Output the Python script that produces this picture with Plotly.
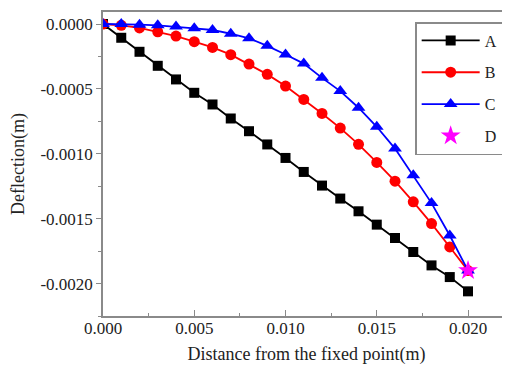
import plotly.graph_objects as go

distance = [0.000, 0.001, 0.002, 0.003, 0.004, 0.005, 0.006, 0.007, 0.008, 0.009, 0.010,
            0.011, 0.012, 0.013, 0.014, 0.015, 0.016, 0.017, 0.018, 0.019, 0.020]
series_a = [0, -0.000106, -0.000214, -0.000322, -0.000427, -0.000530, -0.000620, -0.000728,
            -0.000826, -0.000928, -0.001032, -0.001140, -0.001245, -0.001345, -0.001443,
            -0.001546, -0.001649, -0.001757, -0.001860, -0.001950, -0.002060]
series_b = [0, -0.000010, -0.000030, -0.000060, -0.000093, -0.000136, -0.000180, -0.000236,
            -0.000309, -0.000388, -0.000478, -0.000581, -0.000689, -0.000802, -0.000927,
            -0.001067, -0.001211, -0.001370, -0.001538, -0.001718, -0.001900]
series_c = [0, 0, -0.000005, -0.000010, -0.000020, -0.000033, -0.000046, -0.000075,
            -0.000110, -0.000168, -0.000235, -0.000305, -0.000415, -0.000517, -0.000645,
            -0.000792, -0.000960, -0.001165, -0.001380, -0.001630, -0.001900]
d_x = [0.020]
d_y = [-0.001900]

x_tickvals = [0.000, 0.005, 0.010, 0.015, 0.020]
x_ticktext = ["0.000", "0.005", "0.010", "0.015", "0.020"]
y_tickvals = [0.0000, -0.0005, -0.0010, -0.0015, -0.0020]
y_ticktext = ["0.0000", "-0.0005", "-0.0010", "-0.0015", "-0.0020"]

FONT = "Liberation Serif"
AXIS_GREY = "#8a8a8a"

fig = go.Figure()
fig.add_trace(go.Scatter(x=distance, y=series_a, name="A", mode="lines+markers",
                         line=dict(color="black", width=1.8),
                         marker=dict(symbol="square", size=10, color="black"),
                         legendgroup="A"))
fig.add_trace(go.Scatter(x=distance, y=series_b, name="B", mode="lines+markers",
                         line=dict(color="#ff0000", width=1.8),
                         marker=dict(symbol="circle", size=11, color="#ff0000"),
                         legendgroup="B"))
fig.add_trace(go.Scatter(x=distance, y=series_c, name="C", mode="lines+markers",
                         line=dict(color="#0000ff", width=1.8),
                         marker=dict(symbol="triangle-up", size=12, color="#0000ff"),
                         legendgroup="C"))
fig.add_trace(go.Scatter(x=d_x, y=d_y, name="D", mode="markers",
                         marker=dict(symbol="star", size=15, color="#ff00ff"),
                         legendgroup="D"))

fig.update_layout(
    width=510, height=372,
    margin=dict(l=95, r=8, t=4, b=64, autoexpand=False),
    paper_bgcolor="white", plot_bgcolor="white",
    font=dict(family=FONT, size=17, color="#222222"),
    showlegend=True,
    legend=dict(x=0.767, y=0.967, xanchor="left", yanchor="top",
                bordercolor=AXIS_GREY, borderwidth=1.5, bgcolor="white",
                font=dict(family=FONT, size=16, color="#222222"),
                traceorder="grouped", tracegroupgap=8, itemwidth=58),
    xaxis=dict(range=[0, 0.0223], tickvals=x_tickvals, ticktext=x_ticktext,
               ticks="inside", ticklen=6, tickwidth=1.2, tickcolor=AXIS_GREY,
               ticklabelstandoff=-4,
               minor=dict(dtick=0.0025, tick0=0, ticks="inside", ticklen=3, tickcolor=AXIS_GREY),
               showline=True, linecolor=AXIS_GREY, linewidth=1.5, mirror=True,
               showgrid=False, zeroline=False, automargin=False,
               title=dict(text="Distance from the fixed point(m)", font=dict(size=18), standoff=10)),
    yaxis=dict(range=[-0.00225, 0.0000926], tickvals=y_tickvals, ticktext=y_ticktext,
               ticks="outside", ticklen=5, tickwidth=1.2, tickcolor=AXIS_GREY,
               minor=dict(dtick=0.00025, tick0=0, ticks="outside", ticklen=3, tickcolor=AXIS_GREY),
               showline=True, linecolor=AXIS_GREY, linewidth=1.5,
               showgrid=False, zeroline=False, automargin=False,
               title=dict(text="Deflection(m)", font=dict(size=18), standoff=16)),
)

fig.write_html("out.html")
